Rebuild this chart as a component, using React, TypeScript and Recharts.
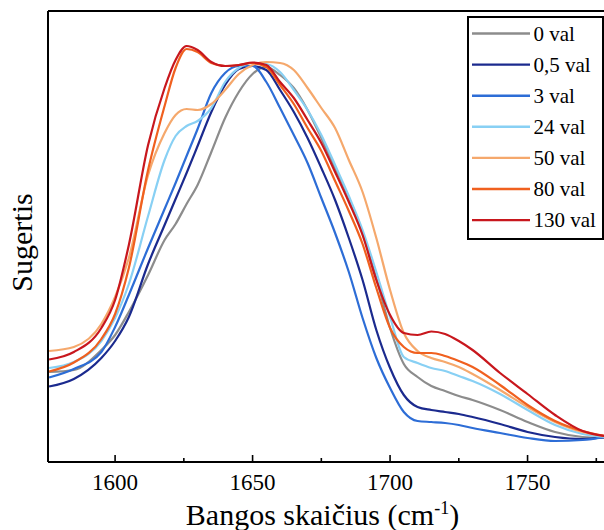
import React from 'react';
import { LineChart, Line, XAxis, YAxis, Legend, ReferenceLine, Label } from 'recharts';

const wavenumbers = [1576, 1585, 1595, 1600, 1605, 1612, 1618, 1622, 1626, 1630, 1635, 1640, 1645, 1650, 1655, 1660, 1665, 1670, 1675, 1680, 1685, 1690, 1695, 1700, 1705, 1710, 1715, 1720, 1725, 1730, 1740, 1750, 1760, 1770, 1778];

const val0 = [90, 92, 112, 127, 150, 187, 222, 238, 258, 277, 310, 344, 370, 388, 395, 387, 374, 352, 324, 294, 264, 229, 184, 134, 98, 85, 76, 71, 66, 62, 52, 40, 30, 25, 24];
const val05 = [75.5, 83, 104, 121, 145, 198, 237, 263, 289, 316, 350, 377, 393, 396, 392, 372, 350, 324, 294, 262, 224, 182, 132, 94, 67, 55, 52, 50, 48, 45, 38, 30, 25, 23, 25];
const val3 = [84.5, 93, 110, 135, 167, 214, 253, 279, 306, 333, 369, 389, 396, 396, 380, 354, 327, 299, 264, 229, 190, 144, 104, 74, 50, 41, 40, 39, 37, 34, 29, 24, 21, 22, 25];
const val24 = [94, 100, 121, 144, 178, 246, 302, 326, 336, 341, 354, 380, 394, 399, 398, 390, 372, 352, 327, 297, 266, 232, 190, 145, 105, 99, 94, 91, 86, 81, 68, 52, 37, 28, 25];
const val50 = [111, 115, 138, 165, 204, 287, 329, 347, 353, 352, 358, 372, 388, 397, 400, 399, 392, 374, 354, 334, 302, 270, 224, 172, 129, 111, 104, 100, 95, 88, 72, 55, 40, 30, 26];
const val80 = [90.5, 99.5, 123, 148, 194, 292, 356, 394, 413, 410, 399, 396, 397, 399, 395, 377, 358, 334, 311, 281, 251, 218, 174, 134, 115, 109, 109, 106, 101, 95, 77, 57, 41, 31, 26];
const val130 = [102.5, 110, 134, 162, 217, 317, 374, 402, 416, 412, 400, 396, 397, 399.5, 397, 380, 364, 342, 319, 290, 260, 227, 182, 147, 129, 127, 130.5, 128, 121, 112, 89, 68, 47, 31, 26];

const seriesNames = ['0 val', '0,5 val', '3 val', '24 val', '50 val', '80 val', '130 val'];
const seriesKeys = ['s0', 's05', 's3', 's24', 's50', 's80', 's130'];
const seriesValues = [val0, val05, val3, val24, val50, val80, val130];
const seriesColors = ['#8c8c8c', '#1b2a8e', '#2d6dd6', '#88d0f4', '#f5a86c', '#f0601f', '#c8171d'];

const xTicks = [1600, 1625, 1650, 1675, 1700, 1725, 1750, 1775];
const labeledTicks = [1600, 1650, 1700, 1750];

const xLabel = 'Bangos skaičius (cm';
const yLabel = 'Sugertis';

const fontStyle = { fontFamily: "'Liberation Serif', 'DejaVu Serif', 'Times New Roman', serif" };

const data = wavenumbers.map((w, i) => {
  const row: Record<string, number> = { w };
  seriesKeys.forEach((k, j) => {
    row[k] = seriesValues[j][i];
  });
  return row;
});

const XTick = (props: any) => {
  const { x, y, payload } = props;
  const major = labeledTicks.includes(payload.value);
  return (
    <g>
      <line x1={x} x2={x} y1={y} y2={y - (major ? 7 : 4)} stroke="#000" strokeWidth={1.6} />
      {major && (
        <text x={x} y={y + 28} textAnchor="middle" fontSize={23} style={fontStyle} fill="#000">
          {payload.value}
        </text>
      )}
    </g>
  );
};

const XAxisLabel = () => (
  <text x={322.5} y={525} textAnchor="middle" fontSize={30} style={fontStyle} fill="#000">
    {xLabel}
    <tspan dy={-11} fontSize={18}>-1</tspan>
    <tspan dy={11}>)</tspan>
  </text>
);

const YAxisLabel = () => (
  <text
    x={32}
    y={242.5}
    transform="rotate(-90 32 242.5)"
    textAnchor="middle"
    fontSize={30}
    style={fontStyle}
    fill="#000"
  >
    {yLabel}
  </text>
);

const LegendBox = () => (
  <svg width={137} height={224} style={{ display: 'block' }}>
    <rect x={1} y={1} width={135} height={222} fill="#fff" stroke="#000" strokeWidth={2} />
    {seriesNames.map((n, i) => {
      const cy = 17.5 + i * 31.1;
      return (
        <g key={n}>
          <line x1={5} x2={63} y1={cy} y2={cy} stroke={seriesColors[i]} strokeWidth={2.4} />
          <text x={66.5} y={cy + 7} fontSize={21} style={fontStyle} fill="#000">
            {n}
          </text>
        </g>
      );
    })}
  </svg>
);

export default function App() {
  return (
    <div style={{ position: 'absolute', left: 0, top: 0, width: 604, height: 530, background: '#fff' }}>
      <LineChart width={604} height={530} data={data} margin={{ top: 11, right: 0, left: 47, bottom: 67 }}>
        <XAxis
          dataKey="w"
          type="number"
          domain={[1575.6, 1777.8]}
          allowDataOverflow
          ticks={xTicks}
          interval={0}
          tick={<XTick />}
          tickLine={false}
          tickSize={0}
          tickMargin={0}
          height={1}
          axisLine={{ stroke: '#000', strokeWidth: 2 }}
        >
          <Label content={<XAxisLabel />} />
        </XAxis>
        <YAxis
          type="number"
          domain={[0, 451]}
          allowDataOverflow
          tick={false}
          tickLine={false}
          width={1}
          axisLine={{ stroke: '#000', strokeWidth: 2 }}
        >
          <Label content={<YAxisLabel />} />
        </YAxis>
        <ReferenceLine y={451} stroke="#000" strokeWidth={2} ifOverflow="visible" />
        {seriesKeys.map((k, i) => (
          <Line
            key={k}
            dataKey={k}
            name={seriesNames[i]}
            type="monotone"
            stroke={seriesColors[i]}
            strokeWidth={2.2}
            dot={false}
            activeDot={false}
            isAnimationActive={false}
          />
        ))}
        <Legend
          layout="vertical"
          align="center"
          verticalAlign="middle"
          content={<LegendBox />}
          wrapperStyle={{ position: 'absolute', left: 467, top: 16, width: 137, height: 224, right: 'auto', bottom: 'auto', margin: 0 }}
        />
      </LineChart>
    </div>
  );
}
